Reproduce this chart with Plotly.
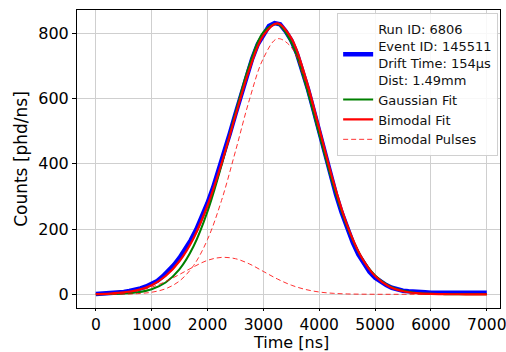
import plotly.graph_objects as go

# ---- data ----
t_data = list(range(0, 7001, 100))
counts_data = [1, 2, 2, 3, 5, 7, 10, 13, 18, 24,
               31, 41, 55, 71, 90, 112, 137, 166, 199, 237,
               280, 327, 379, 434, 493, 552, 612, 667, 722, 766,
               797, 822, 831, 827, 806, 778, 738, 688, 628, 564,
               497, 431, 366, 306, 251, 202, 159, 122, 93, 69,
               51, 38, 28, 20, 15, 11, 9, 7, 6, 6,
               5, 5, 5, 5, 5, 5, 5, 5, 5, 5, 5]

t_fit = list(range(0, 7001, 250))
gauss_fit = [0.2, 0.65, 2.1, 6.0, 15.5, 36, 77, 147, 254, 395,
             555, 703, 803, 828, 771, 647, 490, 335, 207, 115,
             58, 26, 10.7, 4, 1.3, 0.4, 0.1, 0, 0]
bimodal_fit = [0.7, 2.2, 5.6, 13, 28, 56, 102, 172, 272, 400,
               547, 689, 793, 830, 785, 667, 509, 347, 212, 116,
               56, 24, 9.4, 3.3, 1, 0.3, 0.1, 0, 0]
pulse_main = [0, 0.2, 0.6, 2.1, 6.3, 17, 41, 88, 168, 287,
              438, 596, 723, 783, 757, 652, 502, 344, 211, 115,
              56, 24, 9.5, 3.3, 1, 0.3, 0.1, 0, 0]
pulse_small = [0.7, 2.0, 5.0, 11, 22, 39, 61, 84, 104, 113,
               109, 93, 70, 47, 28, 15, 7, 3, 1.1, 0.4,
               0.1, 0, 0, 0, 0, 0, 0, 0, 0]

data_label = "Run ID: 6806<br>Event ID: 145511<br>Drift Time: 154μs<br>Dist: 1.49mm"
x_ticks = [0, 1000, 2000, 3000, 4000, 5000, 6000, 7000]
y_ticks = [0, 200, 400, 600, 800]
x_title = "Time [ns]"
y_title = "Counts [phd/ns]"

FONT = "DejaVu Sans"

fig = go.Figure()
fig.add_trace(go.Scatter(x=t_data, y=counts_data, mode="lines", name=data_label,
                         line=dict(color="#0000ff", width=4.5)))
fig.add_trace(go.Scatter(x=t_fit, y=gauss_fit, mode="lines", name="Gaussian Fit",
                         line=dict(color="#008000", width=2, shape="spline")))
fig.add_trace(go.Scatter(x=t_fit, y=bimodal_fit, mode="lines", name="Bimodal Fit",
                         line=dict(color="#ff0000", width=2.2, shape="spline")))
fig.add_trace(go.Scatter(x=t_fit, y=pulse_main, mode="lines", name="Bimodal Pulses",
                         legendgroup="pulses", opacity=0.8,
                         line=dict(color="#ff0000", width=1, dash="5px,3px", shape="spline")))
fig.add_trace(go.Scatter(x=t_fit, y=pulse_small, mode="lines", name="Bimodal Pulses",
                         legendgroup="pulses", showlegend=False, opacity=0.8,
                         line=dict(color="#ff0000", width=1, dash="5px,3px", shape="spline")))

axis_common = dict(showline=True, mirror=True, linecolor="black", linewidth=1,
                   ticks="outside", tickcolor="black",
                   showgrid=True, gridcolor="#cfcfcf", gridwidth=1,
                   zeroline=False, ticklabeloverflow="allow")

fig.update_xaxes(range=[-337, 7237], tickvals=x_ticks, ticklen=2,
                 tickfont=dict(family=FONT, size=15.5, color="black"), **axis_common)
fig.update_yaxes(range=[-42, 871], tickvals=y_ticks, ticklen=4,
                 tickfont=dict(family=FONT, size=16, color="black"),
                 title=dict(text=y_title, font=dict(family=FONT, size=17, color="black"), standoff=6),
                 **axis_common)

fig.add_annotation(text=x_title, xref="paper", yref="paper", x=0.505, y=-0.116,
                   xanchor="center", yanchor="middle", showarrow=False,
                   font=dict(family=FONT, size=16, color="black"))

fig.update_layout(
    width=506, height=352,
    margin=dict(l=77, r=6, t=10, b=44, autoexpand=False),
    plot_bgcolor="white", paper_bgcolor="white",
    font=dict(family=FONT, color="black"),
    legend=dict(x=0.615, y=0.99, xanchor="left", yanchor="top",
                bgcolor="rgba(255,255,255,0.85)", bordercolor="#d0d0d0", borderwidth=1,
                font=dict(family=FONT, size=13, color="#111"),
                valign="middle", tracegroupgap=0),
)

fig.write_html("out.html")
